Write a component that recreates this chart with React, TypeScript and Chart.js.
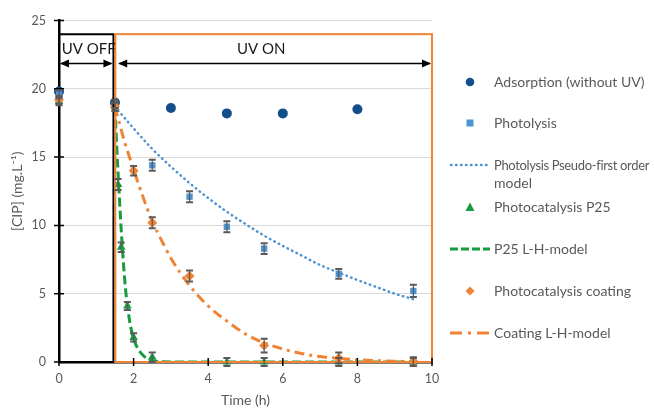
import React, { useEffect, useRef } from "react";
import { Chart, registerables } from "chart.js";

Chart.register(...registerables);

// ---------- data ----------
const adsorptionTime = [0, 1.5, 3, 4.5, 6, 8];
const adsorptionConc = [19.8, 19.0, 18.6, 18.2, 18.2, 18.5];

const photolysisTime = [0, 1.5, 2.5, 3.5, 4.5, 5.5, 7.5, 9.5];
const photolysisConc = [19.6, 18.9, 14.4, 12.1, 9.9, 8.3, 6.45, 5.2];
const photolysisErr = [0.3, 0.3, 0.4, 0.4, 0.4, 0.4, 0.35, 0.45];

const photolysisModelTime = [1.5, 2, 2.5, 3, 3.5, 4, 4.5, 5, 5.5, 6, 6.5, 7, 7.5, 8, 8.5, 9, 9.5];
const photolysisModelConc = [18.7, 17.1, 15.6, 14.3, 13.1, 12.0, 11.0, 10.1, 9.25, 8.5, 7.8, 7.1, 6.55, 6.0, 5.5, 5.0, 4.6];

const p25Time = [0, 1.5, 1.583, 1.667, 1.833, 2, 2.5, 4.5, 5.5, 7.5, 9.5];
const p25Conc = [19.1, 18.7, 13.0, 8.4, 4.1, 1.8, 0.35, 0, 0, 0, 0];
const p25Err = [0.3, 0.3, 0.4, 0.35, 0.3, 0.3, 0.35, 0.3, 0.3, 0.3, 0.3];

const p25ModelTime = [1.5, 1.55, 1.6, 1.65, 1.7, 1.75, 1.8, 1.9, 2.0, 2.1, 2.2, 2.3, 2.4, 2.5, 2.6, 2.8, 3, 4, 6, 8, 9.5];
const p25ModelConc = [18.7, 15.6, 13.0, 10.5, 8.3, 6.4, 4.9, 2.9, 1.7, 1.05, 0.65, 0.38, 0.2, 0.1, 0.05, 0.01, 0, 0, 0, 0, 0];

const coatingTime = [0, 1.5, 2, 2.5, 3.5, 5.5, 7.5, 9.5];
const coatingConc = [19.2, 18.7, 14.0, 10.2, 6.3, 1.2, 0.3, 0.05];
const coatingErr = [0.3, 0.3, 0.35, 0.4, 0.4, 0.5, 0.4, 0.3];

const coatingModelTime = [1.5, 1.75, 2, 2.25, 2.5, 2.75, 3, 3.5, 4, 4.5, 5, 5.5, 6, 6.5, 7, 7.5, 8, 8.5, 9, 9.5];
const coatingModelConc = [18.7, 16.2, 14.1, 12.1, 10.3, 8.9, 7.6, 5.6, 4.1, 3.0, 2.05, 1.4, 0.95, 0.62, 0.4, 0.26, 0.16, 0.1, 0.06, 0.03];

const xTicks = [0, 2, 4, 6, 8, 10];
const yTicks = [0, 5, 10, 15, 20, 25];

const legendLabels = [
  "Adsorption (without UV)",
  "Photolysis",
  "Photolysis Pseudo-first order model",
  "Photocatalysis P25",
  "P25 L-H-model",
  "Photocatalysis coating",
  "Coating L-H-model",
];

// ---------- styling ----------
const DARK_BLUE = "#124E8C";
const LIGHT_BLUE = "#4E94D3";
const GREEN = "#169B3E";
const ORANGE = "#EE8434";
const TEXT = "#595959";
const FONT = "Lato, 'Open Sans', sans-serif";

const pts = (xs: number[], ys: number[]) => xs.map((x, i) => ({ x, y: ys[i] }));

const errorBarPlugin = {
  id: "errorBars",
  afterDatasetsDraw(chart: any) {
    const { ctx, scales } = chart;
    const xs = scales.x;
    const ys = scales.y;
    ctx.save();
    ctx.strokeStyle = "#5a5a5a";
    chart.data.datasets.forEach((ds: any) => {
      if (!ds.errors) return;
      ds.data.forEach((p: any, j: number) => {
        const e = ds.errors[j];
        const px = xs.getPixelForValue(p.x);
        const top = ys.getPixelForValue(p.y + e);
        const bot = ys.getPixelForValue(p.y - e);
        ctx.lineWidth = 1.2;
        ctx.beginPath();
        ctx.moveTo(px, top);
        ctx.lineTo(px, bot);
        ctx.stroke();
        ctx.lineWidth = 2;
        ctx.beginPath();
        ctx.moveTo(px - 3.5, top);
        ctx.lineTo(px + 3.5, top);
        ctx.moveTo(px - 3.5, bot);
        ctx.lineTo(px + 3.5, bot);
        ctx.stroke();
      });
    });
    ctx.restore();
  },
};

function arrowHead(ctx: CanvasRenderingContext2D, x: number, y: number, dir: number) {
  ctx.beginPath();
  ctx.moveTo(x, y);
  ctx.lineTo(x - dir * 9, y - 4);
  ctx.lineTo(x - dir * 9, y + 4);
  ctx.closePath();
  ctx.fill();
}

const annotationPlugin = {
  id: "uvAnnotations",
  afterDatasetsDraw(chart: any) {
    const { ctx, scales } = chart;
    const xs = scales.x;
    const ys = scales.y;
    const X = (v: number) => xs.getPixelForValue(v);
    const Y = (v: number) => ys.getPixelForValue(v);
    ctx.save();
    // black UV OFF box
    ctx.strokeStyle = "#000";
    ctx.lineWidth = 2;
    ctx.beginPath();
    ctx.moveTo(X(0), Y(24));
    ctx.lineTo(X(1.46), Y(24));
    ctx.lineTo(X(1.46), Y(0));
    ctx.stroke();
    // orange UV ON box
    ctx.strokeStyle = ORANGE;
    ctx.lineWidth = 2;
    ctx.strokeRect(X(1.51), Y(24), X(10) - X(1.51), Y(0) - Y(24));
    // arrows
    ctx.strokeStyle = "#000";
    ctx.fillStyle = "#000";
    ctx.lineWidth = 1.5;
    const ay = Y(21.85);
    ctx.beginPath();
    ctx.moveTo(X(0) + 2, ay);
    ctx.lineTo(X(1.46) - 2, ay);
    ctx.moveTo(X(1.56) + 2, ay);
    ctx.lineTo(X(10) - 2, ay);
    ctx.stroke();
    arrowHead(ctx, X(0) + 1, ay, -1);
    arrowHead(ctx, X(1.46) - 1, ay, 1);
    arrowHead(ctx, X(1.56) + 1, ay, -1);
    arrowHead(ctx, X(10) - 1, ay, 1);
    // labels
    ctx.fillStyle = "#1a1a1a";
    ctx.font = `15px ${FONT}`;
    ctx.textAlign = "center";
    ctx.textBaseline = "middle";
    ctx.fillText("UV OFF", X(0.8), Y(22.87));
    ctx.fillText("UV ON", X(5.42), Y(22.87));
    // crossing tick marks
    ctx.strokeStyle = "#000";
    ctx.lineWidth = 1.5;
    ctx.beginPath();
    xTicks.forEach((t) => {
      ctx.moveTo(X(t), Y(0) - 4);
      ctx.lineTo(X(t), Y(0) + 4);
    });
    yTicks.forEach((t) => {
      ctx.moveTo(X(0) - 5, Y(t));
      ctx.lineTo(X(0) + 5, Y(t));
    });
    ctx.stroke();
    ctx.restore();
  },
};

function LegendMarker({ kind }: { kind: number }) {
  const cx = 22;
  const cy = 8;
  let content: any = null;
  if (kind === 0) content = <circle cx={cx} cy={cy} r={4.3} fill={DARK_BLUE} />;
  else if (kind === 1) content = <rect x={cx - 3.5} y={cy - 3.5} width={7} height={7} fill={LIGHT_BLUE} />;
  else if (kind === 2)
    content = (
      <line x1={3} y1={cy} x2={42} y2={cy} stroke={LIGHT_BLUE} strokeWidth={2.5} strokeDasharray="0.5 4.5" strokeLinecap="round" />
    );
  else if (kind === 3) content = <polygon points={`${cx},${cy - 4.5} ${cx + 4.5},${cy + 4} ${cx - 4.5},${cy + 4}`} fill={GREEN} />;
  else if (kind === 4)
    content = <line x1={2} y1={cy} x2={42} y2={cy} stroke={GREEN} strokeWidth={3} strokeDasharray="8 3" />;
  else if (kind === 5)
    content = <polygon points={`${cx},${cy - 4.5} ${cx + 4.5},${cy} ${cx},${cy + 4.5} ${cx - 4.5},${cy}`} fill={ORANGE} />;
  else
    content = <line x1={2} y1={cy} x2={42} y2={cy} stroke={ORANGE} strokeWidth={3} strokeDasharray="12 6 3 6" />;
  return (
    <svg width={44} height={16} style={{ position: "absolute", left: 0, top: 1 }}>
      {content}
    </svg>
  );
}

export default function App() {
  const canvasRef = useRef<HTMLCanvasElement | null>(null);

  useEffect(() => {
    if (!canvasRef.current) return;
    const chart = new Chart(canvasRef.current, {
      type: "scatter",
      data: {
        datasets: [
          {
            label: legendLabels[0],
            data: pts(adsorptionTime, adsorptionConc),
            pointStyle: "circle",
            pointRadius: 5,
            backgroundColor: DARK_BLUE,
            borderColor: DARK_BLUE,
            borderWidth: 0,
            showLine: false,
            clip: false,
            order: 7,
          } as any,
          {
            label: legendLabels[1],
            data: pts(photolysisTime, photolysisConc),
            errors: photolysisErr,
            pointStyle: "rect",
            pointRadius: 4.5,
            backgroundColor: LIGHT_BLUE,
            borderColor: LIGHT_BLUE,
            borderWidth: 0,
            showLine: false,
            clip: false,
            order: 6,
          } as any,
          {
            label: legendLabels[2],
            data: pts(photolysisModelTime, photolysisModelConc),
            showLine: true,
            pointRadius: 0,
            borderColor: LIGHT_BLUE,
            borderWidth: 2.5,
            borderDash: [0.5, 4.5],
            borderCapStyle: "round",
            cubicInterpolationMode: "monotone",
            order: 5,
          } as any,
          {
            label: legendLabels[3],
            data: pts(p25Time, p25Conc),
            errors: p25Err,
            pointStyle: "triangle",
            pointRadius: 5,
            backgroundColor: GREEN,
            borderColor: GREEN,
            borderWidth: 0,
            showLine: false,
            clip: false,
            order: 4,
          } as any,
          {
            label: legendLabels[4],
            data: pts(p25ModelTime, p25ModelConc),
            showLine: true,
            pointRadius: 0,
            borderColor: GREEN,
            borderWidth: 3,
            borderDash: [9, 4],
            cubicInterpolationMode: "monotone",
            order: 3,
          } as any,
          {
            label: legendLabels[5],
            data: pts(coatingTime, coatingConc),
            errors: coatingErr,
            pointStyle: "rectRot",
            pointRadius: 5,
            backgroundColor: ORANGE,
            borderColor: ORANGE,
            borderWidth: 0,
            showLine: false,
            clip: false,
            order: 2,
          } as any,
          {
            label: legendLabels[6],
            data: pts(coatingModelTime, coatingModelConc),
            showLine: true,
            pointRadius: 0,
            borderColor: ORANGE,
            borderWidth: 3,
            borderDash: [10, 5, 3, 5],
            cubicInterpolationMode: "monotone",
            order: 1,
          } as any,
        ],
      },
      options: {
        animation: false,
        responsive: false,
        devicePixelRatio: 1,
        layout: { padding: { left: 0, right: 222, top: 19, bottom: 0 } },
        plugins: {
          legend: { display: false },
          tooltip: { enabled: false },
        },
        scales: {
          x: {
            type: "linear",
            min: 0,
            max: 10,
            afterBuildTicks: (scale: any) => {
              scale.ticks = xTicks.map((v) => ({ value: v }));
            },
            afterFit: (scale: any) => {
              scale.height = 47;
            },
            grid: { display: false, drawTicks: false },
            border: { display: true, color: "#000", width: 2.5 },
            ticks: { color: TEXT, font: { family: FONT, size: 12.5 }, padding: 9, maxRotation: 0 },
            title: {
              display: true,
              text: "Time (h)",
              color: TEXT,
              font: { family: FONT, size: 14 },
              padding: { top: 0, bottom: 0 },
            },
          },
          y: {
            type: "linear",
            min: 0,
            max: 25,
            afterBuildTicks: (scale: any) => {
              scale.ticks = yTicks.map((v) => ({ value: v }));
            },
            afterFit: (scale: any) => {
              scale.width = 59;
            },
            grid: { color: "#d9d9d9", lineWidth: 1, drawTicks: false },
            border: { display: true, color: "#000", width: 2.5 },
            ticks: { color: TEXT, font: { family: FONT, size: 12.5 }, padding: 13 },
            title: {
              display: true,
              text: "[CIP] (mg.L⁻¹)",
              color: TEXT,
              font: { family: FONT, size: 14 },
              padding: { top: 9, bottom: 0 },
            },
          },
        },
      },
      plugins: [annotationPlugin, errorBarPlugin],
    } as any);
    return () => chart.destroy();
  }, []);

  const legendY = [81.7, 123, 165, 206.7, 249, 290.7, 333];

  return (
    <div style={{ position: "fixed", left: 0, top: 0, width: 654, height: 409, background: "#fff", overflow: "hidden" }}>
      <canvas ref={canvasRef} width={654} height={409} style={{ display: "block", width: 654, height: 409 }} />
      {legendLabels.map((lab, i) => (
        <div key={lab} style={{ position: "absolute", left: 448, top: legendY[i] - 9, width: 206, height: 18 }}>
          <LegendMarker kind={i} />
          <div
            style={{
              position: "absolute",
              left: 46,
              top: 0,
              width: 162,
              fontFamily: FONT,
              fontSize: 14,
              lineHeight: "17px",
              color: TEXT,
              whiteSpace: "nowrap",
            }}
          >
            {i === 2 ? (
              <>
                <span style={{ fontSize: 13, letterSpacing: "-0.35px" }}>Photolysis Pseudo-first order</span>
                <br />
                model
              </>
            ) : (
              lab
            )}
          </div>
        </div>
      ))}
    </div>
  );
}
